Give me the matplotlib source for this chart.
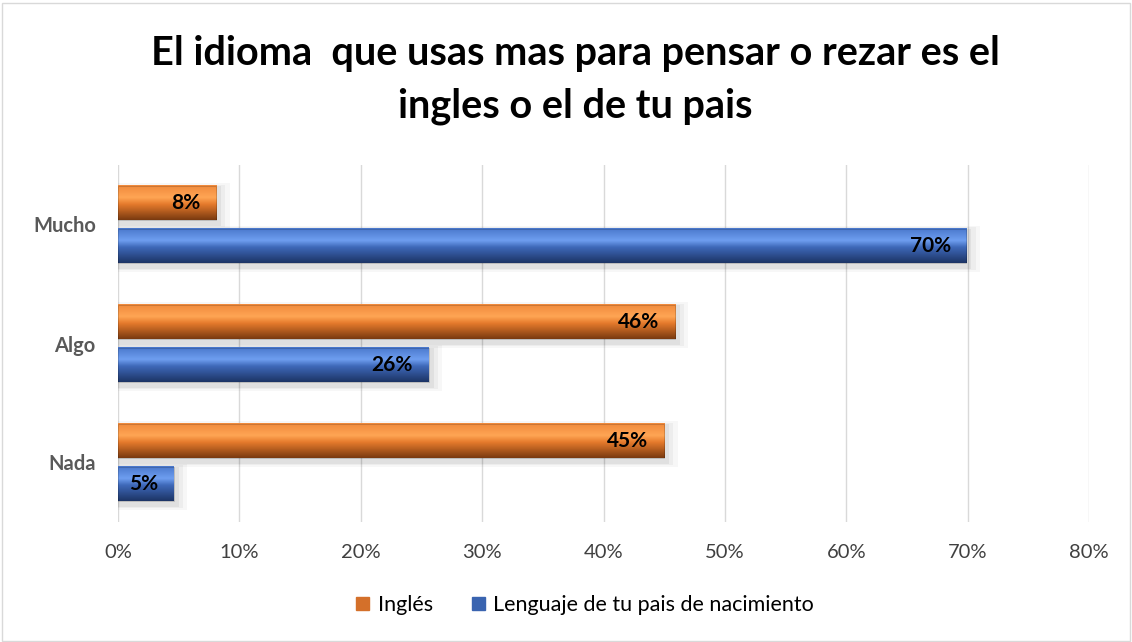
import numpy as np
import matplotlib.pyplot as plt
from matplotlib.colors import LinearSegmentedColormap
from matplotlib.patches import Rectangle

# data
categories = ["Mucho", "Algo", "Nada"]
ingles = [8.1, 45.9, 45.0]
lenguaje = [69.9, 25.6, 4.6]
series_names = ["Inglés", "Lenguaje de tu pais de nacimiento"]
ticks = [0, 10, 20, 30, 40, 50, 60, 70, 80]

plt.rcParams['font.family'] = ['Lato', 'DejaVu Sans']

fig = plt.figure(figsize=(11.32, 6.42), dpi=100)
fig.patch.set_facecolor("white")
fig.add_artist(Rectangle((0.002, 0.002), 0.996, 0.994, transform=fig.transFigure,
                         fill=False, edgecolor="#d9d9d9", lw=1))

ax = fig.add_axes([118 / 1132, 1 - 522 / 642, (1089 - 118) / 1132, (522 - 165) / 642])

orange_cm = LinearSegmentedColormap.from_list(
    "o", [(0, "#f08a3c"), (0.35, "#ffa554"), (0.55, "#e57a2c"), (1, "#7a3a10")])
blue_cm = LinearSegmentedColormap.from_list(
    "b", [(0, "#4a78cc"), (0.35, "#6e9ef0"), (0.55, "#3e68b8"), (1, "#1d3566")])

h = 0.29
off = 0.18
grad = np.linspace(0, 1, 64).reshape(-1, 1)


def gbar(y, w, cmap):
    # soft shadow
    for k, a in enumerate([0.05, 0.04, 0.03]):
        ax.add_patch(Rectangle((0, y - h / 2 - 0.01 * k), w + 0.4 + 0.35 * k,
                               h + 0.05 + 0.02 * k, color="#000000", alpha=a,
                               lw=0, zorder=1))
    ax.imshow(grad, cmap=cmap, aspect="auto", extent=(0, w, y + h / 2, y - h / 2),
              zorder=2, interpolation="bilinear")
    ax.add_patch(Rectangle((0, y - h / 2), w, h, fill=False, edgecolor="#00000030",
                           lw=0.6, zorder=3))


for i, cat in enumerate(categories):
    gbar(i - off, ingles[i], orange_cm)
    gbar(i + off, lenguaje[i], blue_cm)
    ax.text(ingles[i] - 1.3, i - off, "%d%%" % round(ingles[i]), ha="right",
            va="center", fontsize=15, fontweight="bold", color="black", zorder=4)
    ax.text(lenguaje[i] - 1.3, i + off, "%d%%" % round(lenguaje[i]), ha="right",
            va="center", fontsize=15, fontweight="bold", color="black", zorder=4)

ax.set_xlim(0, 80)
ax.set_ylim(2.5, -0.5)
ax.set_xticks(ticks)
ax.set_xticklabels(["%d%%" % t for t in ticks], fontsize=14.5, color="#404040")
ax.set_yticks(range(len(categories)))
ax.set_yticklabels(categories, fontsize=14.5, fontweight="bold", color="#595959")
ax.tick_params(length=0)
ax.tick_params(axis="y", pad=16)
ax.tick_params(axis="x", pad=16)
ax.grid(axis="x", color="#d9d9d9", lw=1)
ax.set_axisbelow(True)
for s in ax.spines.values():
    s.set_visible(False)

fig.text(0.508, 1 - 54 / 642, "El idioma  que usas mas para pensar o rezar es el",
         ha="center", va="center", fontsize=28.5, fontweight="bold", color="black")
fig.text(0.508, 1 - 106 / 642, "ingles o el de tu pais",
         ha="center", va="center", fontsize=28.5, fontweight="bold", color="black")

handles = [Rectangle((0, 0), 1, 1, color="#d4702a"), Rectangle((0, 0), 1, 1, color="#3a64b0")]
fig.legend(handles, series_names, loc="center", bbox_to_anchor=(0.517, 1 - 605 / 642),
           ncol=2, frameon=False, fontsize=15.5, handlelength=0.6, handleheight=0.6,
           columnspacing=1.8, handletextpad=0.4)

fig.savefig("out.png", dpi=100)
